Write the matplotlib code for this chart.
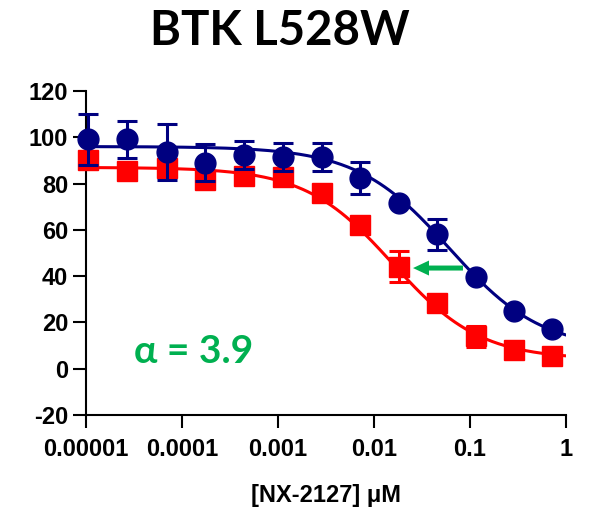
import numpy as np
import matplotlib
matplotlib.use("Agg")
import matplotlib.pyplot as plt

plt.rcParams['axes.unicode_minus'] = False
plt.rcParams['font.family'] = ['Liberation Sans', 'DejaVu Sans']
plt.rcParams['font.weight'] = 'bold'

# concentrations (uM)
conc = [1.05e-5, 2.7e-5, 7.0e-5, 1.75e-4, 4.4e-4, 1.12e-3, 2.85e-3,
        7.1e-3, 1.8e-2, 4.5e-2, 0.115, 0.29, 0.72]

# blue circles (no modulator) and red squares (with modulator)
blue_y = [99.2, 99.2, 93.6, 88.9, 92.4, 91.5, 91.5, 82.4, 71.6, 58.2, 39.6, 25.0, 17.1]
blue_err = [11, 8, 12, 8, 6, 6, 6, 7, 0, 6.7, 0, 0, 0]
red_y = [90.0, 85.5, 86.7, 81.5, 83.3, 83.0, 76.0, 62.0, 44.0, 28.5, 14.0, 8.0, 5.5]
red_err = [1, 0, 0, 0, 0, 0, 0, 0, 6.7, 0, 4.5, 0, 0]

# 4PL fit parameters: top, bottom, IC50, hill
blue_fit = (96.0, 8.0, 0.061, 0.9)
red_fit = (87.0, 4.0, 0.0156, 0.95)

xticks = [1e-5, 1e-4, 1e-3, 1e-2, 1e-1, 1]
xtick_labels = ['0.00001', '0.0001', '0.001', '0.01', '0.1', '1']

NAVY = '#000080'
RED = '#FF0000'
GREEN = '#00B050'


def four_pl(x, top, bottom, ic50, hill):
    return bottom + (top - bottom) / (1 + (x / ic50) ** hill)


fig = plt.figure(figsize=(5.93, 5.15), dpi=100)
ax = fig.add_axes([86 / 593, 100 / 515, 480 / 593, 324 / 515])

xs = np.logspace(-5, 0, 300)
ax.plot(xs, four_pl(xs, *red_fit), color=RED, lw=2.2, zorder=2)
ax.errorbar(conc, red_y, yerr=red_err, fmt='s', color=RED, ms=14.5,
            elinewidth=2.2, capsize=7, capthick=2.2, zorder=3, clip_on=False)
ax.plot(xs, four_pl(xs, *blue_fit), color=NAVY, lw=2.2, zorder=4)
ax.errorbar(conc, blue_y, yerr=blue_err, fmt='o', color=NAVY, ms=15,
            elinewidth=2.2, capsize=7, capthick=2.2, zorder=5, clip_on=False)

ax.set_xscale('log')
ax.set_xlim(1e-5, 1)
ax.set_ylim(-20, 120)
ax.set_yticks(range(-20, 121, 20))
ax.set_xticks(xticks)
ax.set_xticklabels(xtick_labels)
ax.xaxis.set_minor_locator(matplotlib.ticker.NullLocator())

for s in ['top', 'right']:
    ax.spines[s].set_visible(False)
for s in ['left', 'bottom']:
    ax.spines[s].set_linewidth(1.5)

ax.tick_params(axis='both', length=9.4, width=1.5, direction='out', labelsize=17)
ax.tick_params(axis='y', pad=3.5)
ax.tick_params(axis='x', pad=7)

ax.set_xlabel('[NX-2127] μM', fontweight='bold', fontsize=17, labelpad=17)

# shift arrow
ax.annotate('', xy=(0.0255, 43.5), xytext=(0.0845, 43.5),
            arrowprops=dict(arrowstyle='simple,head_length=1.15,head_width=1.08,tail_width=0.36',
                            color=GREEN, shrinkA=0, shrinkB=0, mutation_scale=10, lw=0),
            zorder=6)
ax.text(3.2e-5, 2.5, 'α = 3.9', color=GREEN, fontsize=28, fontweight='bold',
        family=['Lato', 'Open Sans', 'DejaVu Sans'], ha='left', va='baseline')

fig.text(280 / 593, 1 - 45 / 515, 'BTK L528W', fontsize=34, fontweight='bold',
         family=['Lato', 'Open Sans', 'DejaVu Sans'], ha='center', va='baseline')

fig.savefig('out.png', dpi=100)
